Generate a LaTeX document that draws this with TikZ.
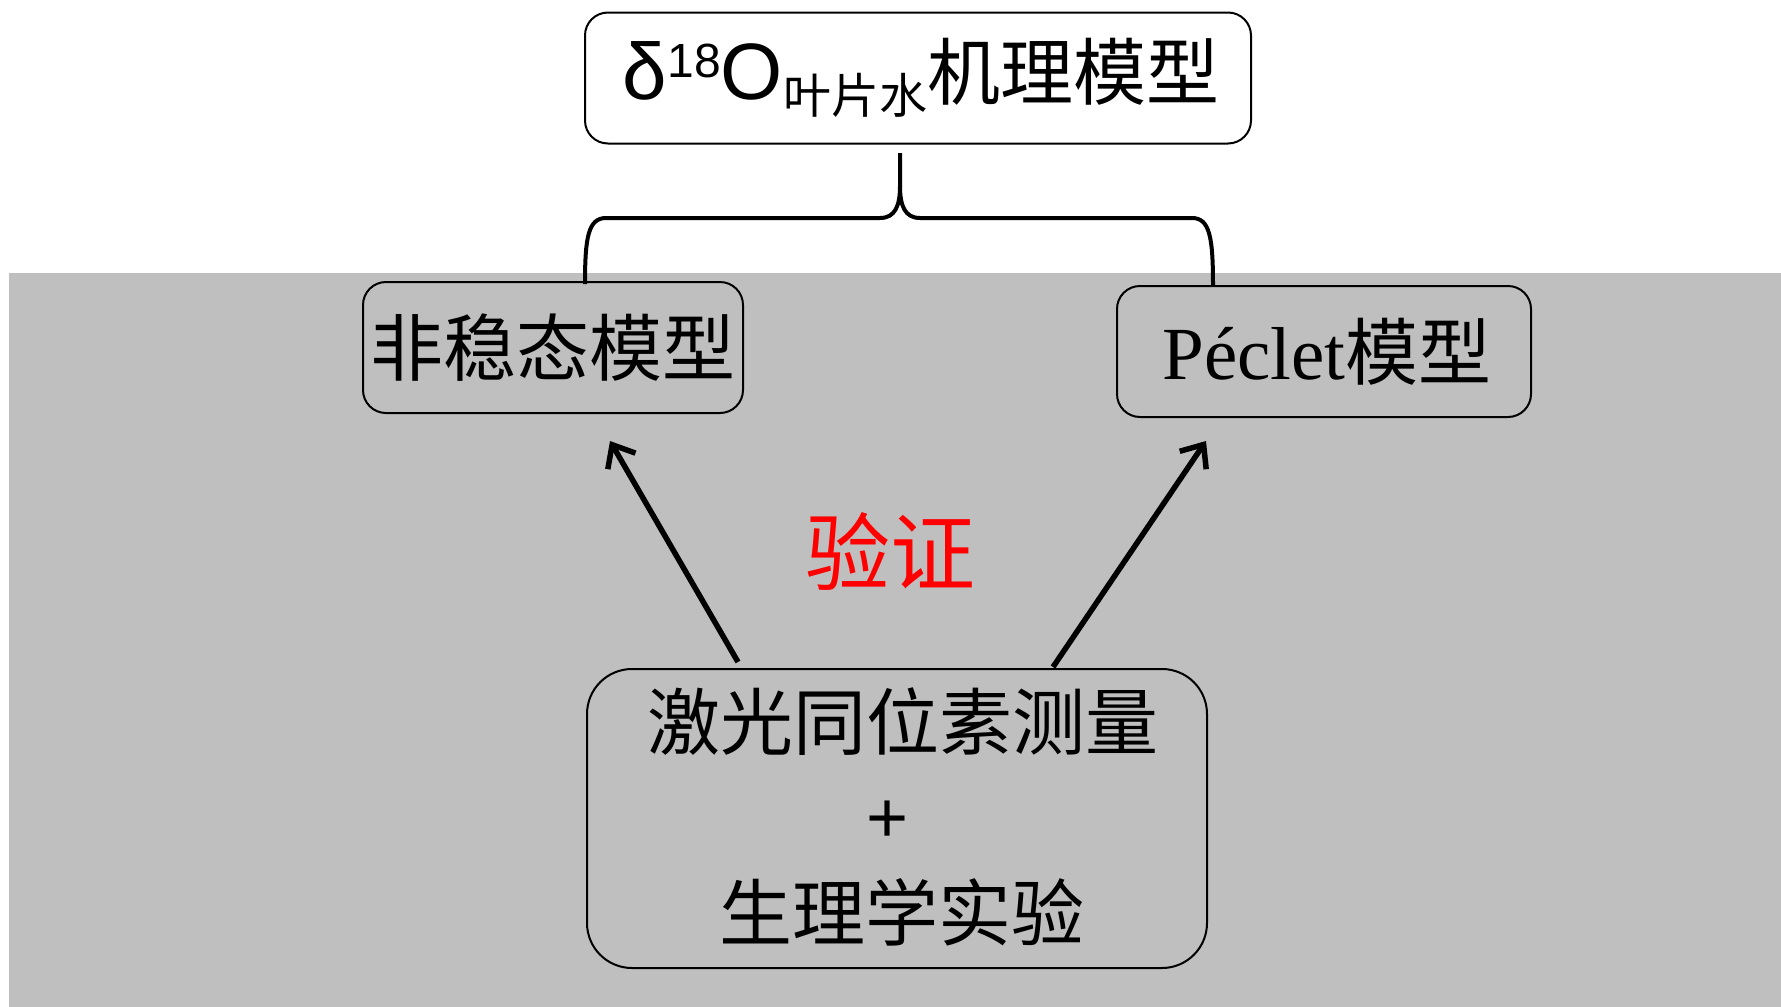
\documentclass[tikz,border=0pt]{standalone}
\usepackage{fontspec}
\setmainfont{Liberation Serif}
\newfontfamily\cjk{Noto Sans CJK SC}
\newfontfamily\lsans{Liberation Sans}
\usetikzlibrary{arrows.meta}
\definecolor{bggray}{RGB}{191,191,191}
\definecolor{vred}{RGB}{255,0,0}
\tikzset{
  box/.style={draw=black, line width=2pt, rounded corners=23pt, inner sep=0pt, align=center},
  bigbox/.style={box, rounded corners=45pt},
  bracel/.style={line width=4pt, line join=round},
  arr/.style={line width=5.5pt, -{Straight Barb[length=19pt,width=32pt]}},
  cjkbig/.style={font=\cjk\fontsize{73}{96}\selectfont},
}
\begin{document}
\begin{tikzpicture}[x=1pt,y=-1pt]
\useasboundingbox (0,0) rectangle (1781,1007);
\fill[bggray] (9,273) rectangle (1781,1007);

\node[box, minimum width=666pt, minimum height=131pt] (top) at (918,78)
  {\hspace*{6pt}{\lsans\fontsize{80}{90}\selectfont δ\raisebox{22pt}{\fontsize{48}{48}\selectfont 18}O}\raisebox{-14pt}{\cjk\fontsize{48}{50}\selectfont 叶片水}{\cjk\fontsize{73}{80}\selectfont 机理模型}};

\node[box, cjkbig, minimum width=380pt, minimum height=131pt] (left) at (553,347.5) {非稳态模型};

\node[box, minimum width=414pt, minimum height=131pt] (right) at (1324,351.5)
  {\hspace*{6pt}{\fontsize{75}{90}\selectfont Péclet}{\cjk\fontsize{73}{80}\selectfont 模型}};

\node[bigbox, minimum width=620pt, minimum height=299pt] (bottom) at (897,818.5) {};
\node[cjkbig] (l1) at (903,722) {激光同位素测量};
\node[font=\lsans\fontsize{72}{80}\selectfont] (plus) at (888,822) {+};
\node[cjkbig] (l2) at (902,912) {生理学实验};

\node[font=\cjk\fontsize{85}{90}\selectfont, text=vred] (verify) at (890,552) {验证};

% brace
\coordinate (bt) at (900,153);
\coordinate (bm) at (900,186);
\coordinate (bl) at (585,284);
\coordinate (br) at (1213,286);
\draw[bracel] (bl) .. controls (585,238) and (588,218) .. (606,218) -- (880,218)
  .. controls (895,218) and (900,206) .. (bm) -- (bt);
\draw[bracel] (br) .. controls (1213,238) and (1210,218) .. (1192,218) -- (920,218)
  .. controls (905,218) and (900,206) .. (bm);

% arrows
\coordinate (a1s) at (738,662);
\coordinate (a1e) at (610,441);
\coordinate (a2s) at (1053,667);
\coordinate (a2e) at (1206,441);
\draw[arr] (a1s) -- (a1e);
\draw[arr] (a2s) -- (a2e);
\end{tikzpicture}
\end{document}
